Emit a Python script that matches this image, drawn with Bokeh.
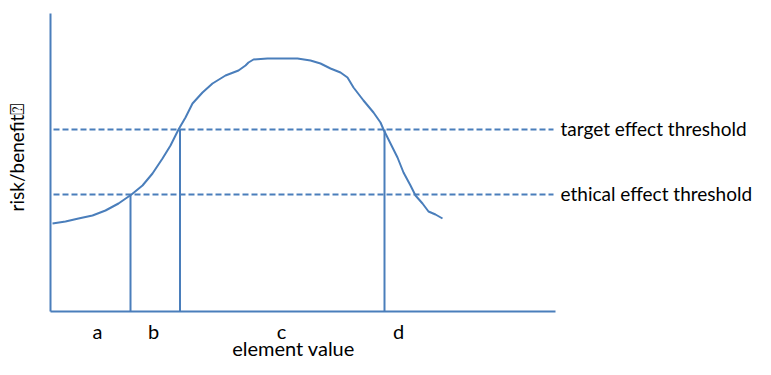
import math
from bokeh.plotting import figure
from bokeh.models import Range1d
from bokeh.core.properties import value
from bokeh.embed import file_html
from bokeh.resources import INLINE

# ---- data (x: element value, y: risk/benefit; arbitrary units) ----
curve_x = [2, 15, 28, 42, 55, 68, 81, 92, 102, 112, 120, 128, 135, 142, 152,
           162, 175, 188, 195, 198, 203, 217, 247, 260, 270, 280, 290, 297, 303,
           313, 323, 330, 333, 340, 347, 353, 360, 365, 372, 378, 385, 392]
curve_y = [88, 90, 93, 96, 101, 108, 117, 126, 138, 153, 166, 182, 194, 208, 219,
           228, 236, 241, 246, 249, 252, 253, 253, 251, 248, 243, 239, 234, 224,
           211, 199, 189, 182, 168, 154, 139, 126, 116, 108, 100, 97, 93]

threshold_names = ["target effect threshold", "ethical effect threshold"]
threshold_values = [182, 117]
threshold_span = [3, 503]

crossing_x = [80, 129.5, 334]
crossing_y = [117, 182, 182]

axis_x_max = 505
axis_y_max = 298

region_labels = ["a", "b", "c", "d"]
region_label_x = [47, 103, 231, 348]

x_title = "element value"
y_title = "risk/benefit\u2370"

BLUE = "#4a7ebb"
FONT = "Lato"

p = figure(width=755, height=359, output_backend="svg", toolbar_location=None,
           x_range=Range1d(-50, 705), y_range=Range1d(-48, 311),
           min_border=0)
p.axis.visible = False
p.grid.visible = False
p.outline_line_color = None
p.background_fill_color = "white"

# axes drawn as lines
p.line([0, 0], [0, axis_y_max], line_color=BLUE, line_width=2)
p.line([0, axis_x_max], [0, 0], line_color=BLUE, line_width=2)

# thresholds
for v in threshold_values:
    p.line(threshold_span, [v, v], line_color=BLUE, line_width=2, line_dash="6 3")

# vertical crossing lines
p.segment(x0=crossing_x, y0=[0] * len(crossing_x), x1=crossing_x, y1=crossing_y,
          line_color=BLUE, line_width=2)

# curve
p.line(curve_x, curve_y, line_color=BLUE, line_width=2, line_join="round")

# threshold labels
p.text(x=[510, 510], y=[v + 1 for v in threshold_values], text=threshold_names,
       text_font=value(FONT), text_font_size="19px", text_color="black",
       text_baseline="middle", text_align="left")

# region labels
p.text(x=region_label_x, y=[-19] * 4, text=region_labels,
       text_font=value(FONT), text_font_size="20px", text_color="black",
       text_baseline="middle", text_align="center")

# axis titles
p.text(x=[243], y=[-36], text=[x_title], text_font=value(FONT),
       text_font_size="20px", text_color="black",
       text_baseline="middle", text_align="center")
p.text(x=[-34], y=[154], text=[y_title], text_font=value(FONT),
       text_font_size="19px", text_color="black", angle=math.pi / 2,
       text_baseline="middle", text_align="center")

open("out.html", "w").write(file_html(p, INLINE))
